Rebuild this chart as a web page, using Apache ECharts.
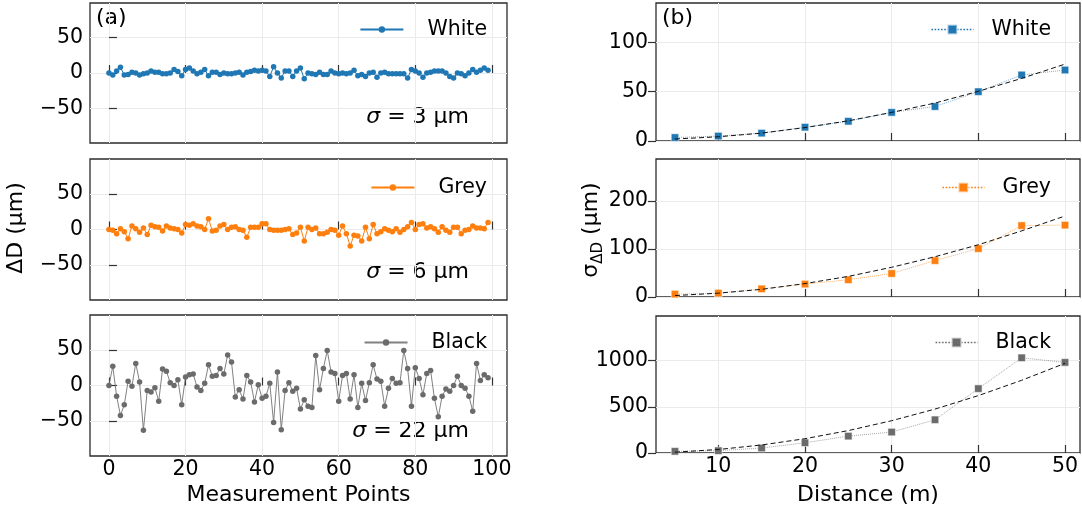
<!DOCTYPE html>
<html>
<head>
<meta charset="utf-8">
<script src="https://cdn.jsdelivr.net/npm/echarts@6/dist/echarts.min.js"></script>
<style>
  html, body { margin: 0; padding: 0; background: #fff; }
  #chart { width: 1082px; height: 515px; }
</style>
</head>
<body>
<div id="chart"></div>
<script>
// ---- (a) deviation per measurement point, in µm ----
const whiteDev = [0,-3,3,8,-3,-2,1,0,-3,-1, 0,3,1,1,-1,-1,0,5,2,-4, 5,7,3,-1,1,5,-4,1,1,-2,
  0,-1,-1,0,1,-3,1,2,4,3, 4,3,-5,9,0,-7,3,3,-5,3, 7,-8,0,-1,-2,1,-2,-2,3,0,
  -1,0,-1,0,4,-4,-2,-5,0,1, -6,0,1,-1,-1,-1,-1,-1,-7,5, 3,0,-6,0,1,3,3,3,0,-5,
  -7,0,-1,-4,0,5,1,4,7,4];
const greyDev = [0,-1,-6,1,-3,-13,5,1,-4,2, -7,6,4,3,-2,5,2,1,0,-5, 7,6,8,5,4,0,15,-2,-1,5,
  7,0,3,4,0,-1,-11,3,3,3, 8,8,0,-1,-1,-1,0,1,-7,-5, 3,-16,3,0,2,-6,-6,-4,0,-1,
  -8,5,-6,-23,-8,-9,-16,3,-13,7, -6,-3,1,-1,-3,1,-4,0,4,10, 0,7,8,2,4,1,-4,4,-1,-4,
  3,3,-6,-1,0,5,2,2,1,10];
const blackDev = [0,27,-15,-42,-27,6,-1,31,5,-63, -7,-9,-3,-22,23,20,4,0,8,-27, 12,15,16,-2,-7,3,29,13,14,24,
  16,43,33,-16,-6,-19,14,5,-23,1, -18,-15,3,-52,19,-62,-7,4,-8,-4, -33,-20,-29,-31,42,-6,24,49,19,17,
  -22,14,17,-19,15,-31,3,-21,4,29, 9,6,-29,-4,10,3,4,49,24,-29, 25,10,-13,17,21,-18,-44,-15,-5,-8,
  0,13,0,-4,-15,-36,31,7,15,11];
const sigmaLabels = ['3', '6', '22'];

// ---- (b) spread of ΔD versus distance ----
const distances = [5, 10, 15, 20, 25, 30, 35, 40, 45, 50];
const whiteSigma = [3.5, 5, 8, 14, 20, 29, 35, 50, 67, 72];
const greySigma  = [6, 8, 17, 27, 36, 49, 76, 101, 149, 150];
const blackSigma = [18, 25, 54, 111, 183, 227, 360, 698, 1032, 982];
const whiteFit = [2, 4.3, 8, 13.6, 20.5, 29, 38.5, 50.4, 63.5, 78];
const greyFit  = [3, 8, 16, 28, 43, 62, 84, 109, 138, 169];
const blackFit = [9, 38, 87, 155, 243, 350, 476, 622, 788, 972];

// ---- tick values ----
const ticksPoints = [0, 20, 40, 60, 80, 100];
const ticksDev = [-50, 0, 50];
const ticksDist = [10, 20, 30, 40, 50];
const ticksSigma = [[0, 50, 100], [0, 100, 200], [0, 500, 1000]];
const sigmaMax = [140, 288, 1485];

const FONT = 'DejaVu Sans';
const TICK_SIZE = 20.5;
const LABEL_SIZE = 22;
const COLORS = ['#1f77b4', '#ff7f0e', '#6b6b6b'];
const NAMES = ['White', 'Grey', 'Black'];
const minusFmt = v => String(v).replace('-', '\u2212');
const plainFmt = v => String(v);

const leftGrids = [
  { left: 90, top: 3, width: 417, height: 140 },
  { left: 90, top: 159, width: 417, height: 141 },
  { left: 90, top: 315, width: 417, height: 141 }
];
const rightGrids = [
  { left: 656, top: 3, width: 424, height: 138 },
  { left: 656, top: 159, width: 424, height: 138 },
  { left: 656, top: 316, width: 424, height: 137 }
];
const grids = leftGrids.concat(rightGrids).map(g => Object.assign({
  show: true, borderColor: '#2b2b2b', borderWidth: 1.3, containLabel: false
}, g));

const labelStyle = { fontSize: TICK_SIZE, fontFamily: FONT, color: '#000' };
const splitStyle = { show: true, lineStyle: { color: '#ebebeb', width: 1 } };

const xAxes = [], yAxes = [];
for (let k = 0; k < 3; k++) {
  xAxes.push({
    type: 'value', gridIndex: k, min: -4.95, max: 103.95,
    axisLine: { show: false },
    axisTick: { show: true, inside: true, length: 8, customValues: ticksPoints, lineStyle: { color: '#333', width: 1.2 } },
    axisLabel: Object.assign({ show: k === 2, customValues: ticksPoints, margin: 3, formatter: minusFmt }, labelStyle),
    splitLine: splitStyle
  });
  yAxes.push({
    type: 'value', gridIndex: k, min: -99, max: 99,
    axisLine: { show: false },
    axisTick: { show: true, inside: true, length: 8, customValues: ticksDev, lineStyle: { color: '#333', width: 1.2 } },
    axisLabel: Object.assign({ customValues: ticksDev, margin: 7, formatter: minusFmt }, labelStyle),
    splitLine: splitStyle
  });
}
for (let k = 0; k < 3; k++) {
  xAxes.push({
    type: 'value', gridIndex: 3 + k, min: 2.81, max: 51.73,
    axisLine: { show: false },
    axisTick: { show: true, inside: true, length: 8, customValues: ticksDist, lineStyle: { color: '#333', width: 1.2 } },
    axisLabel: Object.assign({ show: k === 2, customValues: ticksDist, margin: 3, formatter: plainFmt }, labelStyle),
    splitLine: splitStyle
  });
  yAxes.push({
    type: 'value', gridIndex: 3 + k, min: 0, max: sigmaMax[k],
    axisLine: { show: false },
    axisTick: { show: true, inside: false, length: 8, customValues: ticksSigma[k], lineStyle: { color: '#333', width: 1.2 } },
    axisLabel: Object.assign({ customValues: ticksSigma[k], margin: 8, formatter: plainFmt }, labelStyle),
    splitLine: splitStyle
  });
}

const devSets = [whiteDev, greyDev, blackDev];
const sigmaSets = [whiteSigma, greySigma, blackSigma];
const fitSets = [whiteFit, greyFit, blackFit];

const series = [];
devSets.forEach((vals, k) => {
  series.push({
    name: NAMES[k], type: 'line', xAxisIndex: k, yAxisIndex: k,
    data: vals.map((v, i) => [i, v]),
    symbol: 'circle', symbolSize: 5.5, showSymbol: true,
    itemStyle: { color: COLORS[k] },
    lineStyle: { color: COLORS[k], width: 1, opacity: k === 2 ? 0.85 : 1 },
    animation: false, z: 2
  });
});
sigmaSets.forEach((vals, k) => {
  series.push({
    name: NAMES[k] + ' (b)', type: 'line', xAxisIndex: 3 + k, yAxisIndex: 3 + k,
    data: vals.map((v, i) => [distances[i], v]),
    symbol: 'rect', symbolSize: 7.5, showSymbol: true,
    itemStyle: { color: COLORS[k], borderColor: 'rgba(255,255,255,0.55)', borderWidth: 1 },
    lineStyle: { color: COLORS[k], width: 1, type: 'dotted', opacity: 0.6 },
    animation: false, z: 2
  });
  series.push({
    name: NAMES[k] + ' fit', type: 'line', xAxisIndex: 3 + k, yAxisIndex: 3 + k,
    data: fitSets[k].map((v, i) => [distances[i], v]),
    symbol: 'none', smooth: false,
    lineStyle: { color: '#111', width: 1, type: [5, 3] },
    animation: false, z: 3
  });
});

const legendCenters = [29, 187, 342];
const legends = [];
for (let k = 0; k < 3; k++) {
  legends.push({
    data: [NAMES[k]], right: 595, top: legendCenters[k] - 10, padding: 0,
    itemWidth: 43, itemHeight: 8, selectedMode: false,
    textStyle: { fontSize: TICK_SIZE, fontFamily: FONT, color: '#000', padding: [0, 0, 0, 19] }
  });
  legends.push({
    data: [NAMES[k] + ' (b)'], right: 31, top: legendCenters[k] - 10, padding: 0,
    itemWidth: 42, itemHeight: 12, selectedMode: false,
    formatter: n => n.split(' ')[0],
    lineStyle: { width: 1.6, opacity: 1 },
    textStyle: { fontSize: TICK_SIZE, fontFamily: FONT, color: '#000', padding: [0, 0, 0, 13] }
  });
}

const txt = (x, y, text, extra) => Object.assign({
  type: 'text', x: x, y: y,
  style: { text: text, fontSize: LABEL_SIZE, fontFamily: FONT, fill: '#000', align: 'center', verticalAlign: 'middle' }
}, extra || {});

const sigmaY = [117, 272, 431];
const graphics = [
  { type: 'text', x: 96, y: 18, style: { text: '(a)', fontSize: LABEL_SIZE, fontFamily: FONT, fill: '#000', align: 'left', verticalAlign: 'middle' } },
  { type: 'text', x: 662, y: 18, style: { text: '(b)', fontSize: LABEL_SIZE, fontFamily: FONT, fill: '#000', align: 'left', verticalAlign: 'middle' } },
  txt(16, 228, 'ΔD (µm)', { rotation: Math.PI / 2 }),
  { type: 'text', x: 591, y: 230, rotation: Math.PI / 2, style: {
      text: '{s|σ}{d|ΔD}{s| (µm)}', fontFamily: FONT, fill: '#000', align: 'center', verticalAlign: 'middle',
      rich: {
        s: { fontSize: LABEL_SIZE, fontFamily: FONT, lineHeight: 30, fill: '#000' },
        d: { fontSize: 15, fontFamily: FONT, lineHeight: 14, verticalAlign: 'bottom', fill: '#000' }
      } } },
  txt(298.5, 495, 'Measurement Points'),
  txt(868, 495, 'Distance (m)')
];
sigmaLabels.forEach((s, k) => {
  graphics.push({ type: 'text', x: 469, y: sigmaY[k], style: {
    text: '{i|σ} = ' + s + ' µm', fontSize: LABEL_SIZE, fontFamily: FONT, fill: '#000', align: 'right', verticalAlign: 'middle',
    rich: { i: { fontSize: LABEL_SIZE, fontFamily: FONT, fontStyle: 'italic', fill: '#000' } } } });
});

const chart = echarts.init(document.getElementById('chart'), null, { renderer: 'canvas' });
chart.setOption({
  animation: false,
  backgroundColor: '#fff',
  grid: grids,
  xAxis: xAxes,
  yAxis: yAxes,
  legend: legends,
  series: series,
  graphic: { elements: graphics }
});
</script>
</body>
</html>
